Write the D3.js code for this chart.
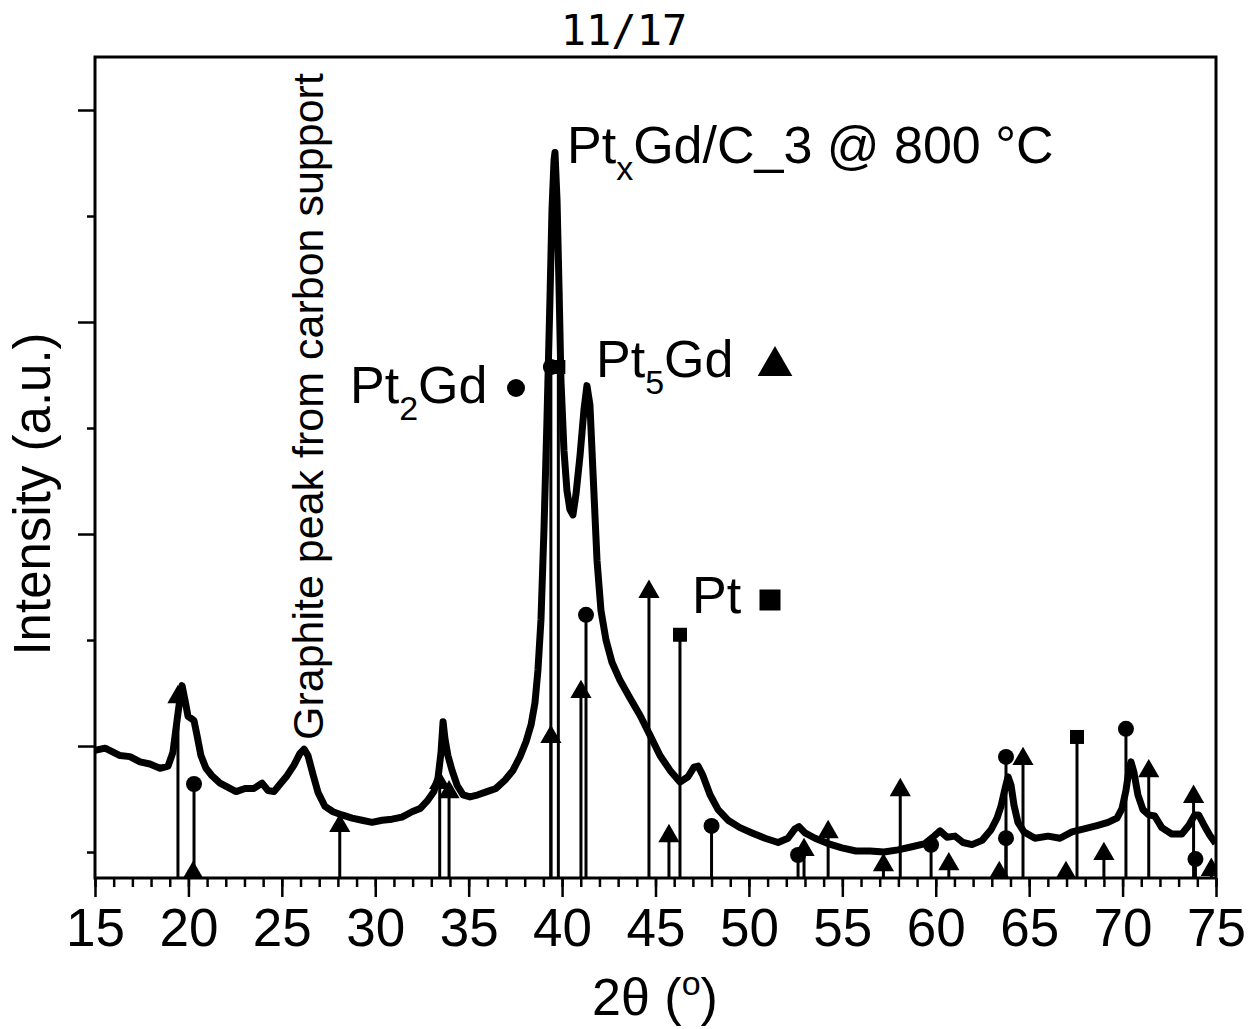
<!DOCTYPE html>
<html lang="en">
<head>
  <meta charset="UTF-8">
  <script src="https://d3js.org/d3.v7.min.js"></script>
  <title>PtxGd/C_3 XRD</title>
  <style>
    body { margin: 0; background: #fff; }
    svg text { font-family: "Liberation Sans", Arial, sans-serif; fill: #000; }
  </style>
</head>
<body>
  <script>
    // measured XRD pattern (2theta in degrees, intensity in arbitrary counts)
    const twoTheta = [15.00, 15.54, 16.34, 16.87, 17.41, 17.94, 18.48, 18.91, 19.17, 19.39,
      19.55, 19.66, 19.82, 19.98, 20.14, 20.30, 20.46, 20.67, 20.94, 21.26,
      21.69, 22.12, 22.55, 23.03, 23.51, 23.94, 24.26, 24.58, 24.90, 25.28,
      25.65, 25.97, 26.19, 26.40, 26.67, 26.94, 27.31, 27.74, 28.22, 28.76,
      29.29, 29.83, 30.36, 30.90, 31.43, 31.97, 32.40, 32.82, 33.14, 33.36,
      33.52, 33.63, 33.73, 33.89, 34.11, 34.38, 34.70, 35.07, 35.50, 35.98,
      36.46, 36.95, 37.37, 37.75, 38.07, 38.34, 38.55, 38.71, 38.87, 39.03,
      39.19, 39.35, 39.46, 39.57, 39.62, 39.73, 39.84, 39.94, 40.10, 40.26,
      40.42, 40.58, 40.74, 40.96, 41.17, 41.33, 41.49, 41.65, 41.87, 42.08,
      42.35, 42.67, 43.10, 43.64, 44.17, 44.71, 45.24, 45.78, 46.31, 46.74,
      47.06, 47.28, 47.54, 47.92, 48.35, 48.88, 49.52, 50.17, 50.86, 51.56,
      52.09, 52.47, 52.68, 53.00, 53.54, 54.23, 54.98, 55.73, 56.48, 57.23,
      57.98, 58.73, 59.43, 59.91, 60.23, 60.60, 61.03, 61.46, 61.94, 62.48,
      62.96, 63.28, 63.49, 63.71, 63.87, 64.03, 64.19, 64.40, 64.72, 65.31,
      66.01, 66.65, 67.29, 67.99, 68.63, 69.22, 69.70, 69.97, 70.18, 70.34,
      70.45, 70.61, 70.82, 71.09, 71.40, 71.72, 72.10, 72.63, 73.17, 73.54,
      73.86, 74.07, 74.34, 74.66, 74.98];
    const intensity = [96, 98, 91, 90, 85, 83, 79, 81, 94, 124,
      145, 157, 143, 128, 126, 124, 110, 91, 79, 72,
      65, 61, 57, 60, 60, 65, 58, 57, 64, 72,
      82, 93, 97, 91, 73, 56, 43, 38, 35, 32,
      30, 28, 30, 31, 33, 38, 41, 49, 57, 70,
      94, 123, 107, 91, 77, 63, 54, 52, 54, 57,
      60, 68, 77, 90, 104, 120, 141, 172, 219, 304,
      407, 521, 606, 653, 660, 615, 530, 445, 379, 341,
      323, 318, 337, 374, 417, 440, 422, 360, 275, 228,
      200, 179, 162, 145, 129, 110, 91, 77, 66, 71,
      80, 81, 72, 54, 40, 30, 23, 18, 13, 9,
      13, 22, 24, 18, 13, 8, 4, 1, 1, 0,
      2, 5, 8, 15, 20, 14, 15, 9, 7, 11,
      21, 32, 43, 60, 71, 63, 44, 28, 19, 13,
      15, 13, 19, 22, 25, 28, 32, 41, 58, 77,
      85, 75, 54, 40, 35, 34, 23, 17, 17, 25,
      35, 35, 26, 16, 8];

    // reference patterns: position (deg) and relative intensity (%)
    const pt5gdPos = [19.44, 20.25, 28.10, 33.45, 33.95, 39.40, 41.01, 44.65, 45.72, 52.95,
      54.24, 57.20, 58.10, 60.70, 63.40, 64.67, 66.97, 69.00, 71.40, 73.80, 74.75];
    const pt5gdRel = [35.4, 1.0, 10.2, 18.6, 16.8, 27.6, 36.4, 56.0, 8.2, 5.5,
      9.0, 2.5, 17.2, 2.7, 1.0, 23.3, 1.0, 4.7, 20.9, 15.9, 1.6];
    const pt2gdPos = [20.30, 39.40, 41.28, 48.00, 52.63, 59.75, 63.76, 63.76, 70.18, 73.90];
    const pt2gdRel = [18.4, 100, 51.5, 10.2, 4.5, 6.5, 23.7, 7.8, 29.2, 3.7];
    const ptPos = [39.80, 46.31, 67.56];
    const ptRel = [100, 47.6, 27.6];

    const xTicksMajor = [15, 20, 25, 30, 35, 40, 45, 50, 55, 60, 65, 70, 75];

    const W = 1248, H = 1029;
    const pLeft = 95, pRight = 1216, pTop = 57, pBottom = 878;

    const svg = d3.select("body").append("svg")
      .attr("width", W)
      .attr("height", H);

    const x = d3.scaleLinear().domain([15, 75]).range([pLeft, pRight]);
    const y = d3.scaleLinear().domain([-24.5, 750]).range([pBottom, pTop]);
    const yStick = d3.scaleLinear().domain([0, 100]).range([pBottom, 367]);

    // page number on top
    svg.append("text")
      .attr("x", 624).attr("y", 45)
      .attr("text-anchor", "middle")
      .style("font-family", "'DejaVu Sans Mono', monospace")
      .style("font-size", "42px")
      .text("11/17");

    // clip for the plot area
    svg.append("clipPath").attr("id", "plot")
      .append("rect").attr("x", pLeft).attr("y", pTop)
      .attr("width", pRight - pLeft).attr("height", pBottom - pTop);

    const plot = svg.append("g").attr("clip-path", "url(#plot)");

    // XRD curve (the original is noisy, so a heavy stroke stands in for the band)
    const line = d3.line()
      .x((d, i) => x(twoTheta[i]))
      .y(d => y(d));

    plot.append("path")
      .datum(intensity)
      .attr("fill", "none")
      .attr("stroke", "#000")
      .attr("stroke-width", 7)
      .attr("stroke-linejoin", "round")
      .attr("d", line);

    // stick patterns
    const phases = [
      { pos: pt5gdPos, rel: pt5gdRel, shape: d3.symbolTriangle, size: 195 },
      { pos: pt2gdPos, rel: pt2gdRel, shape: d3.symbolCircle, size: Math.PI * 64 },
      { pos: ptPos, rel: ptRel, shape: d3.symbolSquare, size: 196 }
    ];

    phases.forEach(p => {
      const g = plot.append("g");
      g.selectAll("line")
        .data(p.pos)
        .enter()
        .append("line")
        .attr("x1", d => x(d)).attr("x2", d => x(d))
        .attr("y1", pBottom)
        .attr("y2", (d, i) => yStick(p.rel[i]))
        .attr("stroke", "#000")
        .attr("stroke-width", 3);
      g.selectAll("path")
        .data(p.pos)
        .enter()
        .append("path")
        .attr("transform", (d, i) => `translate(${x(d)},${yStick(p.rel[i])})`)
        .attr("d", d3.symbol().type(p.shape).size(p.size))
        .attr("fill", "#000");
    });

    // axes
    const xMinor = d3.axisBottom(x).tickValues(d3.range(15, 76)).tickSize(9).tickFormat("");
    const xMajor = d3.axisBottom(x).tickValues(xTicksMajor).tickSize(19).tickPadding(11);
    const yMinor = d3.axisLeft(y).tickValues([0, 200, 400, 600]).tickSize(8).tickFormat("");
    const yMajor = d3.axisLeft(y).tickValues([100, 300, 500, 700]).tickSize(17).tickFormat("");

    [xMinor, xMajor].forEach(ax => {
      const g = svg.append("g")
        .attr("transform", `translate(0, ${pBottom})`)
        .call(ax);
      g.select(".domain").remove();
      g.selectAll(".tick line").attr("stroke-width", 2.5);
      g.selectAll("text")
        .style("font-size", "53px")
        .style("font-family", "'Liberation Sans', Arial, sans-serif")
        .attr("fill", "#000");
    });
    [yMinor, yMajor].forEach(ax => {
      const g = svg.append("g")
        .attr("transform", `translate(${pLeft}, 0)`)
        .call(ax);
      g.select(".domain").remove();
      g.selectAll(".tick line").attr("stroke-width", 2.5);
    });

    // frame
    svg.append("rect")
      .attr("x", pLeft).attr("y", pTop)
      .attr("width", pRight - pLeft).attr("height", pBottom - pTop)
      .attr("fill", "none")
      .attr("stroke", "#000")
      .attr("stroke-width", 3);

    // axis titles
    svg.append("text")
      .attr("transform", "translate(50, 494) rotate(-90)")
      .attr("text-anchor", "middle")
      .style("font-size", "51px")
      .text("Intensity (a.u.)");

    const xt = svg.append("text")
      .attr("x", 655).attr("y", 1015)
      .attr("text-anchor", "middle")
      .style("font-size", "52px");
    xt.append("tspan").text("2θ (");
    xt.append("tspan").attr("dy", -20).style("font-size", "34px").text("o");
    xt.append("tspan").attr("dy", 20).text(")");

    // annotations
    svg.append("text")
      .attr("transform", "translate(323, 740) rotate(-90)")
      .style("font-size", "43px")
      .text("Graphite peak from carbon support");

    function label(xp, yp, base, sub, rest) {
      const t = svg.append("text").attr("x", xp).attr("y", yp).style("font-size", "52px");
      t.append("tspan").text(base);
      if (sub) {
        t.append("tspan").attr("dy", 17).style("font-size", "34px").text(sub);
        t.append("tspan").attr("dy", -17).text(rest);
      }
      return t;
    }

    label(567, 163, "Pt", "x", "Gd/C_3 @ 800 °C");
    label(350, 403, "Pt", "2", "Gd");
    label(596, 377, "Pt", "5", "Gd");
    label(692, 613, "Pt", null, null);

    // legend symbols next to the phase names
    svg.append("path")
      .attr("transform", "translate(516, 388)")
      .attr("d", d3.symbol().type(d3.symbolCircle).size(Math.PI * 81))
      .attr("fill", "#000");
    svg.append("path")
      .attr("transform", "translate(775, 366)")
      .attr("d", d3.symbol().type(d3.symbolTriangle).size(520))
      .attr("fill", "#000");
    svg.append("path")
      .attr("transform", "translate(770, 600)")
      .attr("d", d3.symbol().type(d3.symbolSquare).size(441))
      .attr("fill", "#000");
  </script>
</body>
</html>
